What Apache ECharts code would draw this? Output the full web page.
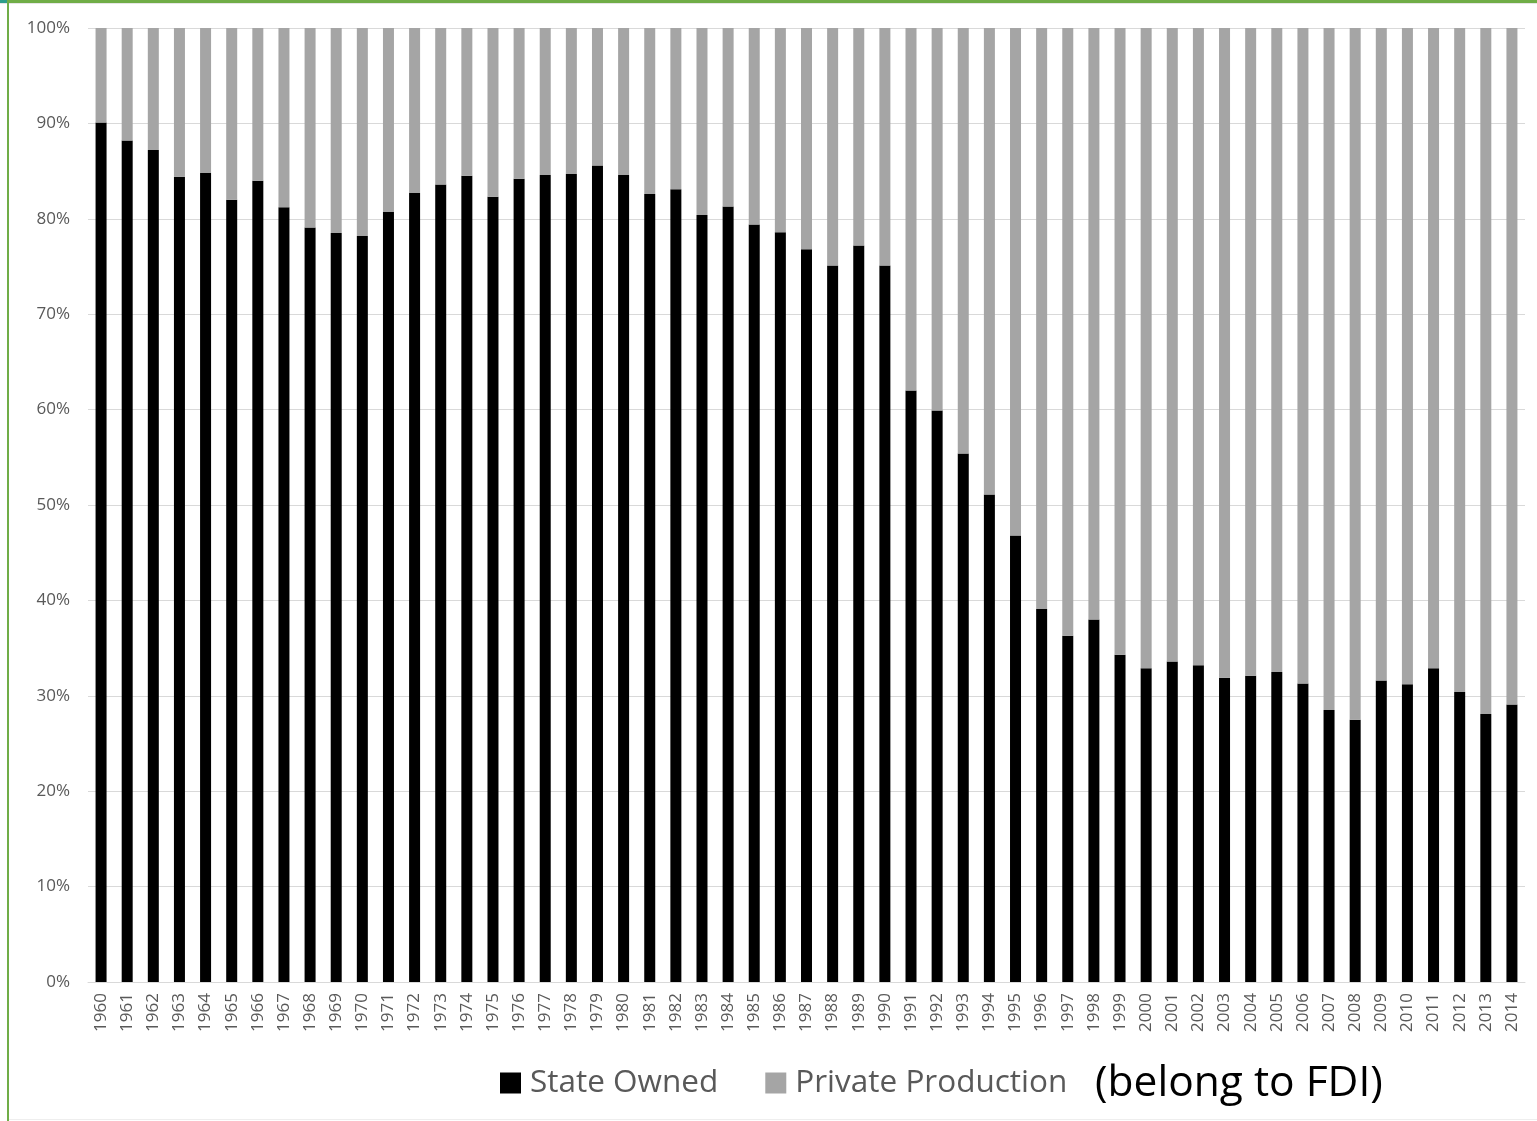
<!DOCTYPE html>
<html>
<head>
<meta charset="utf-8">
<title>State Owned vs Private Production</title>
<script src="https://cdn.jsdelivr.net/npm/echarts@6/dist/echarts.min.js"></script>
<style>
  html, body { margin: 0; padding: 0; background: #ffffff; }
  #chart { width: 1537px; height: 1121px; }
</style>
</head>
<body>
<div id="chart"></div>
<script>
// Years on the category axis
const years = [
  '1960','1961','1962','1963','1964','1965','1966','1967','1968','1969',
  '1970','1971','1972','1973','1974','1975','1976','1977','1978','1979',
  '1980','1981','1982','1983','1984','1985','1986','1987','1988','1989',
  '1990','1991','1992','1993','1994','1995','1996','1997','1998','1999',
  '2000','2001','2002','2003','2004','2005','2006','2007','2008','2009',
  '2010','2011','2012','2013','2014'
];

// Share of production, percent
const stateOwned = [
  90.1, 88.2, 87.2, 84.4, 84.8, 82.0, 84.0, 81.2, 79.1, 78.5,
  78.2, 80.7, 82.7, 83.6, 84.5, 82.3, 84.2, 84.6, 84.7, 85.6,
  84.6, 82.6, 83.1, 80.4, 81.3, 79.4, 78.6, 76.8, 75.1, 77.2,
  75.1, 62.0, 59.9, 55.4, 51.1, 46.8, 39.1, 36.3, 38.0, 34.3,
  32.9, 33.6, 33.2, 31.9, 32.1, 32.5, 31.3, 28.5, 27.5, 31.6,
  31.2, 32.9, 30.4, 28.1, 29.1
];
const privateProduction = [
  9.9, 11.8, 12.8, 15.6, 15.2, 18.0, 16.0, 18.8, 20.9, 21.5,
  21.8, 19.3, 17.3, 16.4, 15.5, 17.7, 15.8, 15.4, 15.3, 14.4,
  15.4, 17.4, 16.9, 19.6, 18.7, 20.6, 21.4, 23.2, 24.9, 22.8,
  24.9, 38.0, 40.1, 44.6, 48.9, 53.2, 60.9, 63.7, 62.0, 65.7,
  67.1, 66.4, 66.8, 68.1, 67.9, 67.5, 68.7, 71.5, 72.5, 68.4,
  68.8, 67.1, 69.6, 71.9, 70.9
];

const seriesNames = ['State Owned', 'Private Production'];
const yTicks = { min: 0, max: 100, interval: 10 };
const note = '(belong to FDI)';

const font = '"Open Sans", "Noto Sans", sans-serif';
const chart = echarts.init(document.getElementById('chart'), null, { renderer: 'canvas' });

chart.setOption({
  backgroundColor: '#ffffff',
  animation: false,
  grid: { left: 88, right: 12, top: 28, bottom: 139, containLabel: false },
  legend: {
    data: seriesNames,
    left: 500,
    top: 1067,
    padding: 0,
    icon: 'rect',
    itemWidth: 21,
    itemHeight: 21,
    itemGap: 47,
    textStyle: { fontFamily: font, fontSize: 31.5, color: '#595959', padding: [0, 0, 0, 4] }
  },
  xAxis: {
    type: 'category',
    data: years,
    axisLine: { show: true, lineStyle: { color: '#d9d9d9', width: 1 } },
    axisTick: { show: false },
    axisLabel: {
      interval: 0,
      rotate: 90,
      margin: 11,
      fontFamily: font,
      fontSize: 17,
      color: '#595959'
    },
    splitLine: { show: false }
  },
  yAxis: {
    type: 'value',
    min: yTicks.min,
    max: yTicks.max,
    interval: yTicks.interval,
    axisLine: { show: false },
    axisTick: { show: false },
    axisLabel: {
      formatter: '{value}%',
      margin: 18,
      fontFamily: font,
      fontSize: 17,
      color: '#595959'
    },
    splitLine: { show: true, lineStyle: { color: '#d9d9d9', width: 1 } }
  },
  series: [
    {
      name: seriesNames[0],
      type: 'bar',
      stack: 'share',
      barWidth: 11,
      itemStyle: { color: '#000000' },
      data: stateOwned
    },
    {
      name: seriesNames[1],
      type: 'bar',
      stack: 'share',
      barWidth: 11,
      itemStyle: { color: '#a5a5a5' },
      data: privateProduction
    }
  ],
  graphic: [
    // frame edges
    { type: 'rect', left: 0, top: 0, shape: { width: 1537, height: 3 }, style: { fill: '#70ad47' }, silent: true },
    { type: 'rect', left: 0, top: 0, shape: { width: 7, height: 3 }, style: { fill: '#2e9e8a' }, silent: true },
    { type: 'rect', left: 0, top: 3, shape: { width: 1537, height: 1 }, style: { fill: '#e6e6e6' }, silent: true },
    { type: 'rect', left: 7, top: 0, shape: { width: 2, height: 1121 }, style: { fill: '#70ad47' }, silent: true },
    { type: 'rect', left: 9, top: 1119, shape: { width: 1528, height: 1 }, style: { fill: '#eeeeee' }, silent: true },
    // note after the legend
    {
      type: 'text',
      left: 1095,
      top: 1062,
      style: { text: note, fontFamily: font, fontSize: 42.5, fill: '#000000' },
      silent: true
    }
  ]
});
</script>
</body>
</html>
